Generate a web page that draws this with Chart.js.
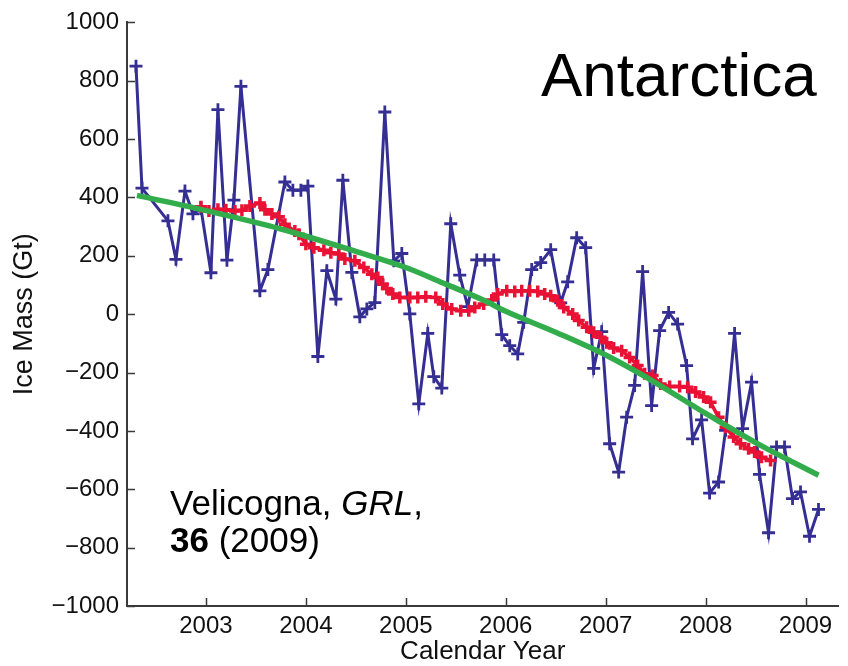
<!DOCTYPE html>
<html>
<head>
<meta charset="utf-8">
<script src="https://cdn.jsdelivr.net/npm/chart.js@4"></script>
<style>
  html, body { margin: 0; padding: 0; background: #fff; }
  canvas { display: block; }
</style>
</head>
<body>
<canvas id="grafico" width="848" height="666"></canvas>
<script>
// Datos mensuales GRACE (azul), media móvil (rojo) y ajuste (verde)
const blueYears = [2002.30, 2002.36, 2002.62, 2002.70, 2002.79, 2002.87, 2002.95, 2003.05, 2003.12, 2003.21,
  2003.28, 2003.35, 2003.54, 2003.62, 2003.79, 2003.87, 2003.95, 2004.02, 2004.12, 2004.21,
  2004.30, 2004.37, 2004.46, 2004.54, 2004.61, 2004.69, 2004.79, 2004.88, 2004.96, 2005.04,
  2005.13, 2005.22, 2005.28, 2005.36, 2005.45, 2005.54, 2005.62, 2005.71, 2005.79, 2005.88,
  2005.96, 2006.04, 2006.12, 2006.18, 2006.26, 2006.35, 2006.45, 2006.55, 2006.62, 2006.71,
  2006.80, 2006.88, 2006.96, 2007.04, 2007.13, 2007.21, 2007.29, 2007.37, 2007.46, 2007.54,
  2007.63, 2007.72, 2007.81, 2007.87, 2007.96, 2008.04, 2008.13, 2008.20, 2008.29, 2008.37,
  2008.46, 2008.54, 2008.63, 2008.71, 2008.79, 2008.87, 2008.95, 2009.04, 2009.13];
const blueMass = [850, 432, 320, 188, 422, 344, 362, 142, 701, 185,
  391, 781, 80, 153, 453, 425, 425, 439, -145, 149,
  52, 459, 143, -9, 18, 40, 693, 183, 208, 1,
  -307, -66, -214, -253, 310, 134, 26, 186, 186, 186,
  -70, -108, -136, -28, 153, 177, 221, 39, 111, 262,
  228, -186, -60, -444, -541, -353, -244, 146, -313, -56,
  6, -34, -176, -427, -362, -613, -575, -398, -66, -392,
  -233, -549, -749, -455, -455, -632, -609, -761, -669];

const redYears = [2002.95, 2003.03, 2003.12, 2003.20, 2003.29, 2003.36, 2003.44, 2003.54, 2003.59, 2003.66,
  2003.73, 2003.79, 2003.89, 2003.93, 2004.00, 2004.08, 2004.18, 2004.25, 2004.33, 2004.39,
  2004.49, 2004.58, 2004.66, 2004.72, 2004.77, 2004.81, 2004.87, 2004.94, 2005.04, 2005.12,
  2005.20, 2005.30, 2005.37, 2005.46, 2005.55, 2005.63, 2005.69, 2005.78, 2005.86, 2005.92,
  2006.01, 2006.09, 2006.16, 2006.24, 2006.32, 2006.39, 2006.45, 2006.52, 2006.58, 2006.67,
  2006.73, 2006.81, 2006.88, 2006.95, 2007.01, 2007.08, 2007.16, 2007.24, 2007.32, 2007.39,
  2007.47, 2007.55, 2007.64, 2007.74, 2007.82, 2007.90, 2007.98, 2008.05, 2008.13, 2008.20,
  2008.28, 2008.35, 2008.43, 2008.49, 2008.56, 2008.65];
const redMass = [368, 354, 360, 358, 354, 356, 371, 381, 358, 343,
  334, 308, 285, 274, 240, 228, 219, 211, 206, 189,
  183, 160, 137, 126, 103, 88, 69, 57, 57, 57,
  60, 57, 35, 18, 12, 12, 23, 35, 49, 69,
  80, 78, 80, 80, 78, 69, 63, 46, 23, 1,
  -22, -45, -62, -79, -98, -116, -125, -148, -176, -204,
  -210, -239, -248, -248, -250, -267, -284, -302, -353, -387,
  -421, -444, -461, -472, -490, -501];

const fitYears = [2002.31, 2003.0, 2003.75, 2004.5, 2005.0, 2005.4, 2005.79, 2006.0, 2006.5, 2007.0, 2007.5, 2008.0, 2008.5, 2009.13];
const fitMass = [407, 355, 292, 215, 160, 103, 46, 10, -62, -140, -235, -340, -440, -552];

const yearTicks = [2003, 2004, 2005, 2006, 2007, 2008, 2009];
const massTicks = [-1000, -800, -600, -400, -200, 0, 200, 400, 600, 800, 1000];

const fuente = "'Liberation Sans', Arial, Helvetica, sans-serif";
const colorEje = '#3a3a3a';

const toPoints = (xs, ys) => xs.map((x, i) => ({ x: x, y: ys[i] }));

// Marcas hacia adentro (estilo MATLAB) y textos anotados
const marcasYTextos = {
    id: 'marcasYTextos',
    afterDraw(chart) {
        const { ctx, chartArea, scales } = chart;
        const x = scales.x, y = scales.y;
        ctx.save();
        ctx.strokeStyle = colorEje;
        ctx.lineWidth = 1.5;
        ctx.beginPath();
        x.ticks.forEach(t => {
            const px = Math.round(x.getPixelForValue(t.value)) + 0.5;
            ctx.moveTo(px, chartArea.bottom);
            ctx.lineTo(px, chartArea.bottom - 8);
        });
        y.ticks.forEach(t => {
            const py = Math.round(y.getPixelForValue(t.value)) + 0.5;
            ctx.moveTo(chartArea.left, py);
            ctx.lineTo(chartArea.left + 8, py);
        });
        ctx.stroke();

        ctx.fillStyle = '#000';
        ctx.textBaseline = 'alphabetic';
        ctx.textAlign = 'left';
        ctx.font = `62px ${fuente}`;
        ctx.fillText('Antarctica', 541, 96);

        let cx = 170;
        ctx.font = `35px ${fuente}`;
        ctx.fillText('Velicogna, ', cx, 515);
        cx += ctx.measureText('Velicogna, ').width;
        ctx.font = `italic 35px ${fuente}`;
        ctx.fillText('GRL', cx, 515);
        cx += ctx.measureText('GRL').width;
        ctx.font = `35px ${fuente}`;
        ctx.fillText(',', cx, 515);

        cx = 170;
        ctx.font = `bold 35px ${fuente}`;
        ctx.fillText('36', cx, 552);
        cx += ctx.measureText('36').width;
        ctx.font = `35px ${fuente}`;
        ctx.fillText(' (2009)', cx, 552);
        ctx.restore();
    }
};

new Chart(document.getElementById('grafico'), {
    type: 'line',
    data: {
        datasets: [
            {
                label: 'Ajuste',
                data: toPoints(fitYears, fitMass),
                borderColor: '#33ad4c',
                borderWidth: 5.5,
                pointRadius: 0,
                cubicInterpolationMode: 'monotone',
                order: 1
            },
            {
                label: 'Media móvil',
                data: toPoints(redYears, redMass),
                borderColor: '#ea1234',
                backgroundColor: '#ea1234',
                borderWidth: 3.5,
                pointStyle: 'cross',
                pointRadius: 6,
                pointBorderWidth: 3.5,
                pointBorderColor: '#ea1234',
                tension: 0,
                order: 2
            },
            {
                label: 'GRACE',
                data: toPoints(blueYears, blueMass),
                borderColor: '#352e93',
                backgroundColor: '#352e93',
                borderWidth: 3,
                pointStyle: 'cross',
                pointRadius: 6.5,
                pointBorderWidth: 2.8,
                pointBorderColor: '#352e93',
                tension: 0,
                order: 3
            }
        ]
    },
    options: {
        responsive: false,
        animation: false,
        layout: { padding: { top: 21, right: 0, bottom: 0, left: 0 } },
        plugins: {
            legend: { display: false },
            tooltip: { enabled: false }
        },
        scales: {
            x: {
                type: 'linear',
                min: 2002.21,
                max: 2009.33,
                afterBuildTicks: scale => { scale.ticks = yearTicks.map(v => ({ value: v })); },
                afterFit: scale => { scale.height = 60; },
                grid: { drawOnChartArea: false, drawTicks: false },
                border: { display: true, color: colorEje, width: 2 },
                ticks: {
                    color: '#111',
                    font: { family: fuente, size: 24 },
                    padding: 6,
                    maxRotation: 0,
                    callback: v => String(v)
                },
                title: {
                    display: true,
                    text: 'Calendar Year',
                    color: '#111',
                    font: { family: fuente, size: 26 },
                    padding: { top: 0, bottom: -1 }
                }
            },
            y: {
                min: -1000,
                max: 1000,
                afterBuildTicks: scale => { scale.ticks = massTicks.map(v => ({ value: v })); },
                afterFit: scale => { scale.width = 127; },
                grid: { drawOnChartArea: false, drawTicks: false },
                border: { display: true, color: colorEje, width: 2 },
                ticks: {
                    color: '#111',
                    font: { family: fuente, size: 24 },
                    padding: 8,
                    callback: v => String(v).replace('-', '\u2212')
                },
                title: {
                    display: true,
                    text: 'Ice Mass (Gt)',
                    color: '#111',
                    font: { family: fuente, size: 27 },
                    padding: { top: 8, bottom: 0 }
                }
            }
        }
    },
    plugins: [marcasYTextos]
});
</script>
</body>
</html>
